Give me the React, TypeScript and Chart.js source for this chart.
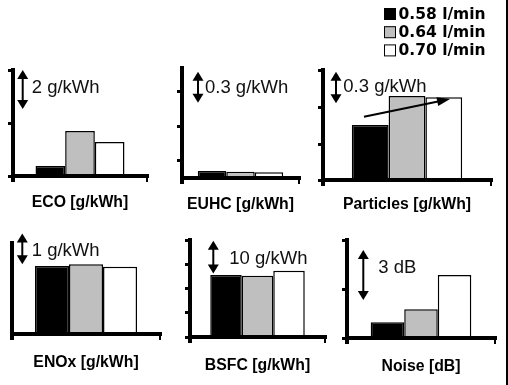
import React, { useEffect, useRef } from 'react';
import { Chart, registerables } from 'chart.js';

Chart.register(...registerables);

// ---------- data ----------
const SERIES_LABELS = ['0.58 l/min', '0.64 l/min', '0.70 l/min'];
const PANEL_TITLES = ['ECO [g/kWh]', 'EUHC [g/kWh]', 'Particles [g/kWh]', 'ENOx [g/kWh]', 'BSFC [g/kWh]', 'Noise [dB]'];
const SCALE_TEXTS = ['2 g/kWh', '0.3 g/kWh', '0.3 g/kWh', '1 g/kWh', '10 g/kWh', '3 dB'];
const SCALE_SPANS = [2, 0.3, 0.3, 1, 10, 3];
// bar heights above each panel's axis bottom, in the panel's unit
const FLOW_058 = [0.51, 0.068, 0.522, 2.2, 19.0, 0.94];
const FLOW_064 = [2.31, 0.06, 0.798, 2.25, 18.8, 1.72];
const FLOW_070 = [1.74, 0.055, 0.785, 2.17, 20.3, 3.78];
const AXIS_MAX = [5.44, 1.065, 1.045, 2.94, 29.75, 5.88];
const AXIS_TICKS = [
  [0, 2.72, 5.44],
  [0.165, 0.494, 0.833],
  [0, 0.342, 0.693, 1.045],
  [],
  [0, 7.44, 14.88, 22.31, 29.75],
  [0, 2.94, 5.88],
];
const TREND_FROM = 0.601;
const TREND_TO = 0.769;

// ---------- layout / style ----------
const SERIES_COLORS = ['#000000', '#bfbfbf', '#ffffff'];
const Y_TICK = 5;
const X_TICK = 6;
const TITLE_SIZE = 15.8;
const TITLE_PAD_B = 2;
const FONT = "'Liberation Sans', Arial, Helvetica, sans-serif";

type PanelLayout = {
  box: number[]; // x, y, w, h of canvas
  area: number[]; // left, top, right, bottom of plot
  cat: number;
  titlePad: number;
  arrowDx: number;
  arrowTop: number;
  textDx: number;
  textY: number;
};

const LAYOUT: PanelLayout[] = [
  { box: [0, 50, 165, 170], area: [13, 70, 147, 176], cat: 0.664, titlePad: 11, arrowDx: 9.7, arrowTop: 5.44, textDx: 9, textY: 4.51 },
  { box: [165, 50, 145, 170], area: [182, 68, 299, 178], cat: 0.73, titlePad: 11.2, arrowDx: 16, arrowTop: 1.029, textDx: 7, textY: 0.874 },
  { box: [310, 0, 195, 220], area: [323, 70, 491, 180], cat: 0.657, titlePad: 8.7, arrowDx: 13, arrowTop: 1.028, textDx: 7.3, textY: 0.88 },
  { box: [0, 220, 170, 165], area: [12, 243, 160, 334], cat: 0.69, titlePad: 13.3, arrowDx: 10.3, arrowTop: 3.25, textDx: 9.4, textY: 2.69 },
  { box: [170, 220, 165, 165], area: [190, 240, 325, 337], cat: 0.7, titlePad: 13.5, arrowDx: 23.3, arrowTop: 29.5, textDx: 16, textY: 23.9 },
  { box: [335, 220, 170, 165], area: [347, 240, 495, 338], cat: 0.68, titlePad: 13.5, arrowDx: 16.3, arrowTop: 5.28, textDx: 15, textY: 4.18 },
];

function drawDoubleArrow(ctx: CanvasRenderingContext2D, x: number, y1: number, y2: number) {
  const hw = 5.5;
  const hl = 9;
  ctx.save();
  ctx.strokeStyle = '#000';
  ctx.fillStyle = '#000';
  ctx.lineWidth = 2;
  ctx.beginPath();
  ctx.moveTo(x, y1 + hl - 1);
  ctx.lineTo(x, y2 - hl + 1);
  ctx.stroke();
  ctx.beginPath();
  ctx.moveTo(x, y1);
  ctx.lineTo(x - hw, y1 + hl);
  ctx.lineTo(x + hw, y1 + hl);
  ctx.closePath();
  ctx.fill();
  ctx.beginPath();
  ctx.moveTo(x, y2);
  ctx.lineTo(x - hw, y2 - hl);
  ctx.lineTo(x + hw, y2 - hl);
  ctx.closePath();
  ctx.fill();
  ctx.restore();
}

function drawArrow(ctx: CanvasRenderingContext2D, x1: number, y1: number, x2: number, y2: number) {
  const ang = Math.atan2(y2 - y1, x2 - x1);
  const hl = 13;
  const hw = 4.5;
  ctx.save();
  ctx.strokeStyle = '#000';
  ctx.fillStyle = '#000';
  ctx.lineWidth = 2;
  ctx.beginPath();
  ctx.moveTo(x1, y1);
  ctx.lineTo(x2 - Math.cos(ang) * (hl - 2), y2 - Math.sin(ang) * (hl - 2));
  ctx.stroke();
  ctx.translate(x2, y2);
  ctx.rotate(ang);
  ctx.beginPath();
  ctx.moveTo(0, 0);
  ctx.lineTo(-hl, -hw);
  ctx.lineTo(-hl, hw);
  ctx.closePath();
  ctx.fill();
  ctx.restore();
}

function makeConfig(index: number): any {
  const L = LAYOUT[index];
  const [bx, by, bw, bh] = L.box;
  const [al, at, ar, ab] = L.area;
  const titleLH = TITLE_SIZE * 1.2;
  const padding = {
    left: al - bx - Y_TICK,
    top: at - by,
    right: bx + bw - ar,
    bottom: by + bh - ab - (X_TICK + L.titlePad + titleLH + TITLE_PAD_B),
  };
  const seriesValues = [FLOW_058, FLOW_064, FLOW_070];

  const annotate = {
    id: 'annotate' + index,
    afterDraw(chart: any) {
      const ctx: CanvasRenderingContext2D = chart.ctx;
      const y = chart.scales.y;
      const area = chart.chartArea;
      const ax = area.left + L.arrowDx;
      drawDoubleArrow(ctx, ax, y.getPixelForValue(L.arrowTop), y.getPixelForValue(L.arrowTop - SCALE_SPANS[index]));
      ctx.save();
      ctx.font = `18.5px ${FONT}`;
      ctx.fillStyle = '#111';
      ctx.textAlign = 'left';
      ctx.textBaseline = 'middle';
      ctx.fillText(SCALE_TEXTS[index], ax + L.textDx, y.getPixelForValue(L.textY));
      ctx.restore();

      if (index === 2) {
        const b0 = chart.getDatasetMeta(0).data[0];
        const b2 = chart.getDatasetMeta(2).data[0];
        const x1 = b0.x - b0.width * 0.17;
        const x2 = b2.x + b2.width * 0.17;
        drawArrow(ctx, x1, y.getPixelForValue(TREND_FROM), x2, y.getPixelForValue(TREND_TO));

        // legend
        ctx.save();
        chart.data.datasets.forEach((ds: any, i: number) => {
          const cy = 14 + i * 18.2;
          ctx.fillStyle = ds.backgroundColor;
          ctx.fillRect(74, cy - 6, 12, 12);
          ctx.strokeStyle = '#000';
          ctx.lineWidth = 1;
          ctx.strokeRect(74.5, cy - 5.5, 11, 11);
          ctx.fillStyle = '#000';
          ctx.font = "bold 15.5px 'DejaVu Sans', sans-serif";
          ctx.textAlign = 'left';
          ctx.textBaseline = 'middle';
          ctx.fillText(ds.label, 88.5, cy + 0.5);
        });
        ctx.restore();
      }
    },
  };

  return {
    type: 'bar',
    data: {
      labels: [PANEL_TITLES[index]],
      datasets: SERIES_LABELS.map((label, i) => ({
        label,
        data: [seriesValues[i][index]],
        backgroundColor: SERIES_COLORS[i],
        borderColor: '#000',
        borderWidth: 1.5,
        categoryPercentage: L.cat,
        barPercentage: 1,
      })),
    },
    options: {
      responsive: false,
      animation: false,
      devicePixelRatio: 1,
      layout: { padding },
      plugins: { legend: { display: false }, tooltip: { enabled: false } },
      events: [],
      scales: {
        x: {
          offset: true,
          grid: {
            offset: true,
            drawOnChartArea: false,
            drawTicks: true,
            tickLength: X_TICK,
            color: '#000',
            lineWidth: (c: any) => (c.index === 0 ? 4 : 2),
          },
          border: { display: true, color: '#000', width: 4, z: 1 },
          ticks: { display: false },
          title: {
            display: true,
            text: PANEL_TITLES[index],
            color: '#000',
            font: { family: FONT, size: TITLE_SIZE, weight: 'bold' },
            padding: { top: L.titlePad, bottom: TITLE_PAD_B },
          },
        },
        y: {
          min: 0,
          max: AXIS_MAX[index],
          afterBuildTicks: (axis: any) => {
            axis.ticks = AXIS_TICKS[index].map((v) => ({ value: v }));
          },
          grid: {
            drawOnChartArea: false,
            drawTicks: true,
            tickLength: Y_TICK,
            color: '#000',
            lineWidth: 3,
          },
          border: { display: true, color: '#000', width: 4, z: 1 },
          ticks: { display: false },
        },
      },
    },
    plugins: [annotate],
  };
}

function Panel({ index }: { index: number }) {
  const ref = useRef<HTMLCanvasElement>(null);
  const L = LAYOUT[index];
  useEffect(() => {
    const chart = new Chart(ref.current as HTMLCanvasElement, makeConfig(index));
    return () => chart.destroy();
  }, [index]);
  return (
    <canvas
      ref={ref}
      width={L.box[2]}
      height={L.box[3]}
      style={{ position: 'absolute', left: L.box[0], top: L.box[1], width: L.box[2], height: L.box[3] }}
    />
  );
}

export default function App() {
  return (
    <div style={{ position: 'absolute', left: 0, top: 0, width: 508, height: 385, background: '#fff', overflow: 'hidden' }}>
      {LAYOUT.map((_, i) => (
        <Panel key={i} index={i} />
      ))}
      <div style={{ position: 'absolute', left: 506, top: 0, width: 2, height: 385, background: '#000' }} />
    </div>
  );
}
